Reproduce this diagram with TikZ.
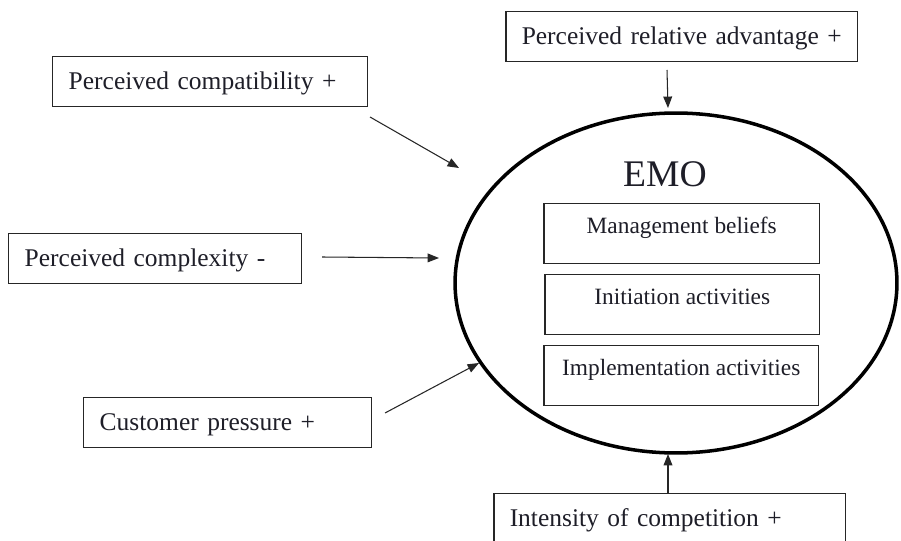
\documentclass[tikz,border=0pt]{standalone}
\usepackage{fontspec}
\setmainfont{Liberation Serif}
\usetikzlibrary{arrows.meta,shapes.geometric}
\definecolor{ink}{HTML}{1E1E28}
\definecolor{lin}{HTML}{262626}
\tikzset{
  outerbox/.style={draw=lin, line width=0.85pt, rectangle, anchor=north west,
    inner xsep=0.32cm, inner ysep=0pt, text height=0.66cm, text depth=0.34cm,
    align=left, text=ink, font=\fontsize{14.5}{17}\selectfont},
  innerbox/.style={draw=lin, line width=0.85pt, rectangle, anchor=north west,
    inner xsep=0pt, inner ysep=0pt, text height=0.6cm, text depth=0.6cm,
    minimum width=5.52cm, align=center, text=ink, font=\fontsize{13.3}{16}\selectfont},
  arr/.style={draw=lin, line width=0.6pt, -{Triangle[length=6.5pt,width=5pt]}}
}
\begin{document}
\begin{tikzpicture}[x=0.02cm,y=-0.02cm]
\clip (0,0) rectangle (901,540);
\fill[white] (0,0) rectangle (901,540);
% ellipse
\node[draw=black, line width=2pt, ellipse, minimum width=8.84cm, minimum height=6.8cm, inner sep=0pt] (emo) at (676,283) {};
\node[anchor=base, text=ink, font=\fontsize{21.4}{24}\selectfont, inner sep=0pt] (emotitle) at (665,187) {EMO};
% inner boxes
\node[innerbox, minimum width=5.52cm] (mb) at (543,203) {Management beliefs};
\node[innerbox, minimum width=5.50cm] (ia) at (544,274) {Initiation activities};
\node[innerbox, minimum width=5.50cm] (impl) at (543,345) {Implementation activities};
% outer boxes
\node[outerbox, text width=6.40cm] (adv) at (505,11) {\mbox{Perceived relative advantage +}};
\node[outerbox, text width=5.66cm] (comp) at (52,56) {\mbox{Perceived compatibility +}};
\node[outerbox, text width=5.22cm] (cplx) at (8,233) {\mbox{Perceived complexity -}};
\node[outerbox, text width=5.12cm] (cust) at (83,397) {\mbox{Customer pressure +}};
\node[outerbox, text width=6.40cm] (comp2) at (493,493) {\mbox{Intensity of competition +}};
% connector end points
\coordinate (advS) at (667,70);
\coordinate (advE) at (668,108);
\coordinate (compS) at (370,117);
\coordinate (compE) at (459,168);
\coordinate (cplxS) at (322,257);
\coordinate (cplxE) at (439,258);
\coordinate (custS) at (385,413);
\coordinate (custE) at (479,363);
\coordinate (intS) at (comp2.north -| 668,0);
\coordinate (intE) at (668,454);
\draw[arr] (advS) -- (advE);
\draw[arr] (compS) -- (compE);
\draw[arr] (cplxS) -- (cplxE);
\draw[arr] (custS) -- (custE);
\draw[arr] (intS) -- (intE);
\end{tikzpicture}
\end{document}
